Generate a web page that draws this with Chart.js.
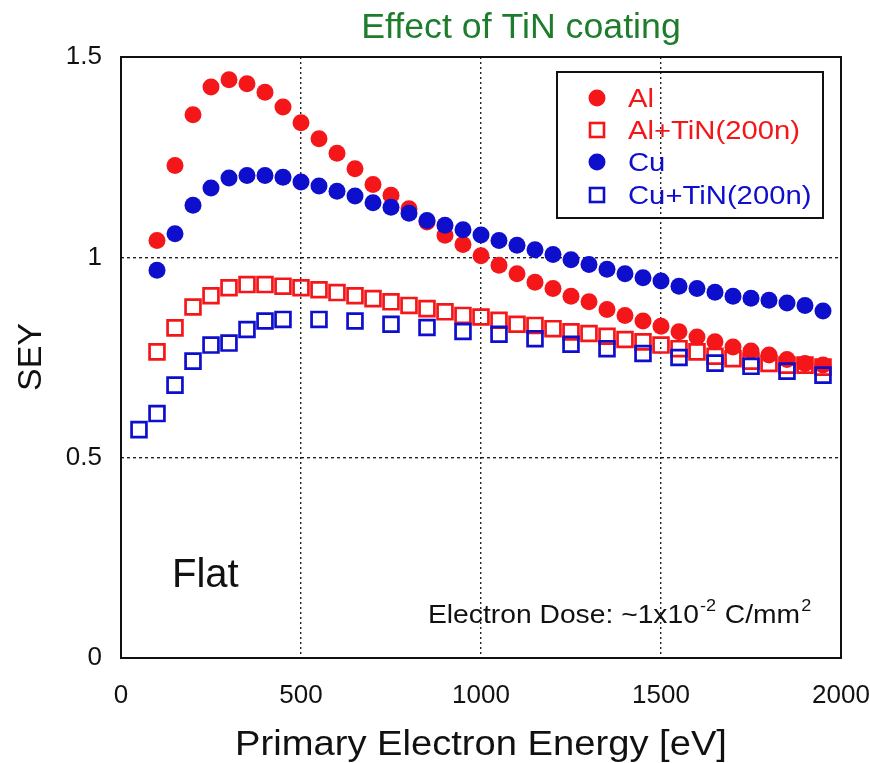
<!DOCTYPE html>
<html>
<head>
<meta charset="utf-8">
<title>Effect of TiN coating</title>
<script src="https://cdn.jsdelivr.net/npm/chart.js@4.4.1/dist/chart.umd.min.js"></script>
<style>
  html, body { margin: 0; padding: 0; background: #fff; }
  #wrap { width: 870px; height: 763px; }
</style>
</head>
<body>
<div id="wrap"><canvas id="seyChart" width="870" height="763"></canvas></div>
<script>
/* SEY vs primary electron energy - Al / Cu with and without TiN */
"use strict";

// Energies (eV)
const energyAl = [100, 150, 200, 250, 300, 350, 400, 450, 500, 550, 600, 650, 700, 750, 800, 850, 900, 950, 1000,
                  1050, 1100, 1150, 1200, 1250, 1300, 1350, 1400, 1450, 1500, 1550, 1600, 1650, 1700, 1750, 1800, 1850, 1900, 1950];
const energyCu = energyAl;
const energyCuTiN = [50, 100, 150, 200, 250, 300, 350, 400, 450, 550, 650, 750, 850, 950,
                     1050, 1150, 1250, 1350, 1450, 1550, 1650, 1750, 1850, 1950];

// SEY values
const seyAl = [1.042, 1.229, 1.356, 1.425, 1.443, 1.433, 1.412, 1.375, 1.336, 1.296, 1.260, 1.221, 1.182, 1.155, 1.121, 1.088, 1.055, 1.032, 1.004,
               0.980, 0.959, 0.938, 0.922, 0.903, 0.889, 0.870, 0.855, 0.841, 0.828, 0.814, 0.801, 0.789, 0.776, 0.766, 0.756, 0.745, 0.735, 0.731];
const seyAlTiN = [0.764, 0.824, 0.876, 0.904, 0.924, 0.932, 0.932, 0.928, 0.924, 0.919, 0.912, 0.904, 0.897, 0.889, 0.880, 0.872, 0.864, 0.855, 0.851,
                  0.843, 0.833, 0.830, 0.822, 0.814, 0.810, 0.803, 0.795, 0.789, 0.781, 0.772, 0.764, 0.753, 0.747, 0.741, 0.735, 0.731, 0.731, 0.726];
const seyCu = [0.968, 1.059, 1.130, 1.173, 1.198, 1.204, 1.204, 1.200, 1.188, 1.178, 1.165, 1.153, 1.136, 1.125, 1.110, 1.092, 1.080, 1.069, 1.056,
               1.042, 1.030, 1.019, 1.007, 0.994, 0.982, 0.970, 0.959, 0.949, 0.941, 0.928, 0.922, 0.913, 0.903, 0.898, 0.893, 0.886, 0.880, 0.866];
const seyCuTiN = [0.570, 0.610, 0.681, 0.741, 0.781, 0.786, 0.820, 0.841, 0.845, 0.845, 0.841, 0.833, 0.825, 0.815,
                  0.808, 0.797, 0.783, 0.772, 0.760, 0.750, 0.736, 0.728, 0.716, 0.706];

// Labels and ticks
const seriesLabels = ["Al", "Al+TiN(200n)", "Cu", "Cu+TiN(200n)"];
const xTicks = [0, 500, 1000, 1500, 2000];
const yTicks = [0, 0.5, 1, 1.5];

const RED = "rgb(245, 22, 26)";
const BLUE = "rgb(14, 14, 205)";
const FONT = "'Liberation Sans', Arial, Helvetica, sans-serif";

function pairs(xs, ys) {
    return xs.map((x, i) => ({ x: x, y: ys[i] }));
}

// draw text with the slight horizontal stretch of the original
function stretchText(ctx, txt, x, y, size, opts) {
    opts = opts || {};
    const sx = opts.sx || 1;
    ctx.save();
    ctx.font = (opts.weight || "normal") + " " + size + "px " + FONT;
    ctx.fillStyle = opts.color || "#111";
    ctx.textBaseline = "alphabetic";
    ctx.textAlign = "left";
    const w = ctx.measureText(txt).width * sx;
    let left = x;
    if (opts.align === "center") left = x - w / 2;
    ctx.translate(left, y);
    ctx.scale(sx, 1);
    ctx.fillText(txt, 0, 0);
    ctx.restore();
    return w;
}

/* Frame, titles, notes and boxed legend */
const decorPlugin = {
    id: "decor",
    afterDraw(chart) {
        const ctx = chart.ctx;
        const a = chart.chartArea;

        // plot frame
        ctx.save();
        ctx.strokeStyle = "#111";
        ctx.lineWidth = 2;
        ctx.strokeRect(a.left, a.top, a.right - a.left, a.bottom - a.top);
        ctx.restore();

        // title
        stretchText(ctx, "Effect of TiN coating", 521, 38, 35, { align: "center", sx: 1.02, color: "rgb(30, 125, 45)" });

        // x axis title
        stretchText(ctx, "Primary Electron Energy [eV]", 481, 755, 35, { align: "center", sx: 1.09 });

        // y axis title
        ctx.save();
        ctx.translate(41, 357);
        ctx.rotate(-Math.PI / 2);
        stretchText(ctx, "SEY", 0, 0, 34, { align: "center" });
        ctx.restore();

        // notes
        stretchText(ctx, "Flat", 172, 587, 40, {});
        let x = 428;
        x += stretchText(ctx, "Electron Dose: ~1x10", x, 623, 25, { sx: 1.13 });
        x += stretchText(ctx, "-2", x + 1, 611, 16, { sx: 1.13 }) + 2;
        x += stretchText(ctx, " C/mm", x, 623, 25, { sx: 1.13 });
        stretchText(ctx, "2", x + 1, 611, 16, { sx: 1.13 });

        // legend box
        ctx.save();
        ctx.strokeStyle = "#111";
        ctx.lineWidth = 2;
        ctx.strokeRect(557, 72, 266, 146);
        ctx.restore();

        const rows = [98, 130, 162, 195];
        chart.data.datasets.forEach((ds, i) => {
            const cy = rows[i];
            ctx.save();
            if (ds.pointStyle === "rect") {
                ctx.strokeStyle = ds.borderColor;
                ctx.lineWidth = 2.6;
                ctx.strokeRect(597 - 7, cy - 7, 14, 14);
            } else {
                ctx.fillStyle = ds.backgroundColor;
                ctx.beginPath();
                ctx.arc(597, cy, 8.5, 0, Math.PI * 2);
                ctx.fill();
            }
            ctx.restore();
            stretchText(ctx, ds.label, 628, cy + 9, 25, { sx: 1.17, color: ds.borderColor });
        });
    }
};

const ctx = document.getElementById("seyChart").getContext("2d");

new Chart(ctx, {
    type: "scatter",
    data: {
        datasets: [
            {
                label: seriesLabels[0],
                data: pairs(energyAl, seyAl),
                pointStyle: "circle",
                pointRadius: 8.5,
                backgroundColor: RED,
                borderColor: RED,
                borderWidth: 0,
                order: 2
            },
            {
                label: seriesLabels[1],
                data: pairs(energyAl, seyAlTiN),
                pointStyle: "rect",
                pointRadius: 10.5,
                backgroundColor: "rgba(255,255,255,0)",
                borderColor: RED,
                borderWidth: 2.7,
                order: 3
            },
            {
                label: seriesLabels[2],
                data: pairs(energyCu, seyCu),
                pointStyle: "circle",
                pointRadius: 8.5,
                backgroundColor: BLUE,
                borderColor: BLUE,
                borderWidth: 0,
                order: 1
            },
            {
                label: seriesLabels[3],
                data: pairs(energyCuTiN, seyCuTiN),
                pointStyle: "rect",
                pointRadius: 10.5,
                backgroundColor: "rgba(255,255,255,0)",
                borderColor: BLUE,
                borderWidth: 2.7,
                order: 0
            }
        ]
    },
    options: {
        responsive: false,
        animation: false,
        layout: { padding: { top: 57, right: 29, left: 0, bottom: 0 } },
        plugins: {
            legend: { display: false },
            title: { display: false },
            tooltip: { enabled: false }
        },
        scales: {
            x: {
                type: "linear",
                min: xTicks[0],
                max: xTicks[xTicks.length - 1],
                afterFit: (s) => { s.height = 105; s.paddingLeft = 0; s.paddingRight = 0; },
                afterBuildTicks: (s) => { s.ticks = xTicks.map(v => ({ value: v })); },
                ticks: {
                    color: "#111",
                    padding: 22,
                    font: { family: FONT, size: 26 },
                    callback: v => String(v)
                },
                grid: {
                    color: "#222",
                    lineWidth: 1.4,
                    drawTicks: false
                },
                border: { display: false, dash: [2, 3] }
            },
            y: {
                min: yTicks[0],
                max: yTicks[yTicks.length - 1],
                afterFit: (s) => { s.width = 121; s.paddingTop = 0; s.paddingBottom = 0; },
                afterBuildTicks: (s) => { s.ticks = yTicks.map(v => ({ value: v })); },
                ticks: {
                    color: "#111",
                    padding: 19,
                    font: { family: FONT, size: 26 },
                    callback: v => String(v)
                },
                grid: {
                    color: "#222",
                    lineWidth: 1.4,
                    drawTicks: false
                },
                border: { display: false, dash: [3, 3] }
            }
        }
    },
    plugins: [decorPlugin]
});
</script>
</body>
</html>
